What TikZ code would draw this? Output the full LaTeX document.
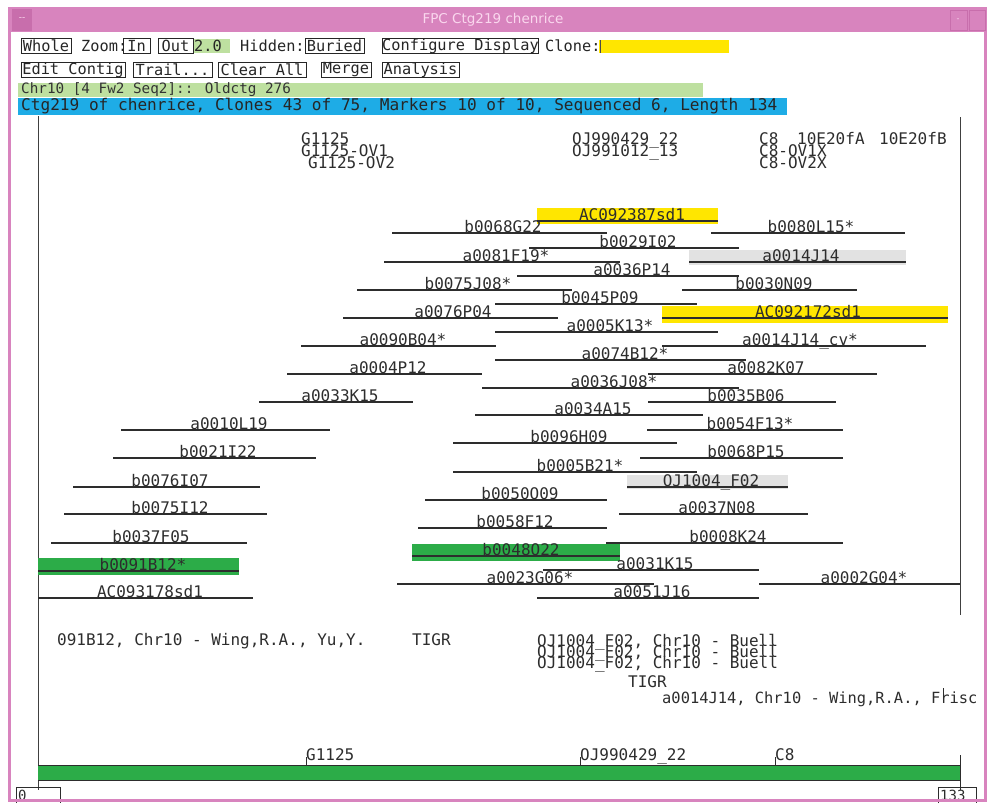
\documentclass[tikz,border=0pt]{standalone}
\usepackage{fontspec}
\newfontfamily\fx{DejaVu Sans Mono}
\newfontfamily\fsans{DejaVu Sans}
\newcommand\fntA{\fx\fontsize{16}{16}\selectfont}
\newcommand\fntB{\fx\fontsize{15.3}{15.3}\selectfont}
\newcommand\fntC{\fx\fontsize{14.3}{14.3}\selectfont}
\newcommand\fntD{\fx\fontsize{16.1}{16.1}\selectfont}
\newcommand\fntE{\fx\fontsize{15.4}{15.4}\selectfont}
\definecolor{pinkt}{RGB}{216,132,190}
\definecolor{pinkd}{RGB}{200,110,172}
\definecolor{pinktxt}{RGB}{250,215,238}
\definecolor{lgreen}{RGB}{190,224,160}
\definecolor{cblue}{RGB}{30,172,230}
\definecolor{cyel}{RGB}{255,230,0}
\definecolor{cgray}{RGB}{226,226,226}
\definecolor{cgreen}{RGB}{44,172,72}
\definecolor{ink}{RGB}{45,45,45}
\newcommand\clone[6]{%
  \draw[cl] (#2,#4) -- (#3,#4);
  \node[lbl] (#1) at (#5,#4) {#6};}
\begin{document}
\begin{tikzpicture}[x=1pt,y=-1pt,
  btn/.style={draw=black!85,line width=0.8pt,inner sep=0pt,minimum height=15pt,font=\fntB,text=black!85},
  tb/.style={inner sep=0pt,font=\fntB,text=black!85,anchor=west},
  cl/.style={draw=ink,line width=1.1pt},
  lbl/.style={inner sep=0pt,anchor=base,yshift=1pt,font=\fntA,text=ink},
  mk/.style={inner sep=0pt,anchor=base west,font=\fntA,text=ink},
  bt/.style={inner sep=0pt,anchor=base west,font=\fntA,text=ink}]
\useasboundingbox (0,0) rectangle (987,803);
\fill[white] (0,0) rectangle (987,803);
% title bar
\fill[pinkt] (8,7) rectangle (987,32);
\fill[pinkd] (12,9) rectangle (32,31);
\node[inner sep=0pt,text=pinktxt,font=\fsans\fontsize{9}{9}\selectfont] (minus) at (22,19) {--};
\node[inner sep=0pt,text=pinktxt,font=\fsans\fontsize{13.5}{13.5}\selectfont] (title) at (493,20) {FPC Ctg219 chenrice};
\draw[pinkd,line width=0.8pt] (950,10) rectangle (967,30);
\draw[pinkd,line width=0.8pt] (969,10) rectangle (985,30);
\node[inner sep=0pt,text=pinktxt,font=\fsans\fontsize{8}{8}\selectfont] (dot) at (958,20) {-};
% toolbar row 1
\node[btn,minimum width=50pt] (whole) at (46,46) {Whole};
\node[tb] (zoom) at (81,46) {Zoom:};
\node[btn,minimum width=27pt] (in) at (136.5,46) {In};
\fill[lgreen] (193,39) rectangle (230,53);
\node[btn,minimum width=35pt] (out) at (175.5,46) {Out};
\node[tb] (two) at (194,46) {2.0};
\node[tb] (hidden) at (240,46) {Hidden:};
\node[btn,minimum width=59pt] (buried) at (334.5,46) {Buried};
\node[btn,minimum width=154pt] (conf) at (460.5,46) {Configure Display};
\node[tb] (clone) at (545,46) {Clone:};
\fill[cyel] (599,40) rectangle (729,53);
\draw[black!70,line width=0.8pt] (600,40) -- (600,53);
% toolbar row 2
\node[btn,minimum width=104pt] (edit) at (73,70) {Edit Contig};
\node[btn,minimum width=79pt] (trail) at (172.5,70) {Trail...};
\node[btn,minimum width=88pt] (clear) at (262,70) {Clear All};
\node[btn,minimum width=50pt] (merge) at (346,70) {Merge};
\node[btn,minimum width=77pt] (anal) at (420.5,70) {Analysis};
% info rows
\fill[lgreen] (18,83) rectangle (703,97);
\node[inner sep=0pt,anchor=west,font=\fntC,text=black!80] (chr) at (21,90) {Chr10 [4 Fw2 Seq2]:: Oldctg 276};
\fill[cblue] (18,98) rectangle (787,115);
\node[inner sep=0pt,anchor=west,font=\fntD,text=black!85] (ctg) at (21,106.5) {Ctg219 of chenrice, Clones 43 of 75, Markers 10 of 10, Sequenced 6, Length 134};
% frame lines
\draw[black!75,line width=1pt] (38,116) -- (38,790);
\draw[black!75,line width=1pt] (960,117) -- (960,615);
% markers
\node[mk] (m1) at (301,144) {G1125};
\node[mk] (m2) at (301,156) {G1125-OV1};
\node[mk] (m3) at (308,168.5) {G1125-OV2};
\node[mk] (m4) at (572,144) {OJ990429\_22};
\node[mk] (m5) at (572,156) {OJ991012\_13};
\node[mk] (m6) at (759,144) {C8};
\node[mk] (m7) at (797,144) {10E20fA};
\node[mk] (m8) at (879,144) {10E20fB};
\node[mk] (m9) at (759,156) {C8-OV1X};
\node[mk] (m10) at (759,168.5) {C8-OV2X};
% highlight bars
\fill[cyel] (537,208) rectangle (718,224);
\fill[cgray] (689,250) rectangle (906,265);
\fill[cyel] (662,306) rectangle (948,323);
\fill[cgray] (627,475) rectangle (788,489);
\fill[cgreen] (38,558) rectangle (239,575);
\fill[cgreen] (412,544) rectangle (620,561);
% clones
\clone{c1}{537}{718}{221}{632}{AC092387sd1}
\clone{c2}{392}{607}{233}{503}{b0068G22}
\clone{c3}{711}{905}{233}{811}{b0080L15*}
\clone{c4}{529}{739}{248}{638}{b0029I02}
\clone{c5}{384}{620}{262}{506}{a0081F19*}
\clone{c6}{689}{906}{262}{801}{a0014J14}
\clone{c7}{517}{739}{276}{632}{a0036P14}
\clone{c8}{357}{572}{290}{468}{b0075J08*}
\clone{c9}{682}{857}{290}{774}{b0030N09}
\clone{c10}{495}{697}{304}{600}{b0045P09}
\clone{c11}{343}{558}{318}{453}{a0076P04}
\clone{c12}{662}{948}{318}{808}{AC092172sd1}
\clone{c13}{495}{718}{332}{610}{a0005K13*}
\clone{c14}{301}{496}{346}{403}{a0090B04*}
\clone{c15}{662}{926}{346}{800}{a0014J14\_cv*}
\clone{c16}{495}{746}{360}{625}{a0074B12*}
\clone{c17}{287}{482}{374}{388}{a0004P12}
\clone{c18}{648}{877}{374}{766}{a0082K07}
\clone{c19}{482}{739}{388}{614}{a0036J08*}
\clone{c20}{648}{836}{402}{746}{b0035B06}
\clone{c21}{259}{413}{402}{340}{a0033K15}
\clone{c22}{475}{703}{415}{593}{a0034A15}
\clone{c23}{121}{330}{430}{229}{a0010L19}
\clone{c24}{647}{843}{430}{750}{b0054F13*}
\clone{c25}{453}{677}{443}{569}{b0096H09}
\clone{c26}{113}{316}{458}{218}{b0021I22}
\clone{c27}{640}{843}{458}{746}{b0068P15}
\clone{c28}{453}{697}{472}{580}{b0005B21*}
\clone{c29}{627}{788}{487}{711}{OJ1004\_F02}
\clone{c30}{73}{260}{487}{170}{b0076I07}
\clone{c31}{425}{607}{500}{520}{b0050O09}
\clone{c32}{64}{267}{514}{170}{b0075I12}
\clone{c33}{619}{808}{514}{717}{a0037N08}
\clone{c34}{418}{607}{528}{515}{b0058F12}
\clone{c35}{51}{247}{543}{151}{b0037F05}
\clone{c36}{606}{843}{543}{728}{b0008K24}
\clone{c37}{38}{239}{571}{143}{b0091B12*}
\clone{c38}{412}{620}{556}{521}{b0048O22}
\clone{c39}{543}{759}{570}{655}{a0031K15}
\clone{c40}{397}{654}{584}{530}{a0023G06*}
\clone{c41}{759}{960}{584}{864}{a0002G04*}
\clone{c42}{537}{759}{598}{652}{a0051J16}
\clone{c43}{38}{253}{598}{150}{AC093178sd1}
% remarks
\begin{scope}
\clip (12,600) rectangle (983,740);
\node[bt] (r1) at (57,645) {091B12, Chr10 - Wing,R.A., Yu,Y.};
\node[bt] (r2) at (412,645) {TIGR};
\node[bt] (r3) at (537,646) {OJ1004\_F02, Chr10 - Buell};
\node[bt] (r4) at (537,657) {OJ1004\_F02, Chr10 - Buell};
\node[bt] (r5) at (537,668) {OJ1004\_F02, Chr10 - Buell};
\node[bt] (r6) at (628,687) {TIGR};
\node[bt,font=\fntE] (r7) at (662,703) {a0014J14, Chr10 - Wing,R.A., Frisc};
\draw[ink,line width=0.8pt] (943,688) -- (943,703);
\end{scope}
% bottom bar
\fill[cgreen] (38,765) rectangle (960,780);
\draw[ink,line width=0.9pt] (38,765) -- (960,765) (38,780) -- (960,780);
\draw[ink,line width=1pt] (960,755) -- (960,790);
\node[bt] (g1) at (306,760) {G1125};
\node[bt] (g2) at (580,760) {OJ990429\_22};
\node[bt] (g3) at (775,760) {C8};
\draw[ink,line width=1pt] (306,757) -- (306,765);
\draw[ink,line width=1pt] (580,757) -- (580,765);
\draw[ink,line width=1pt] (775,757) -- (775,765);
\draw[ink,line width=0.9pt] (16,803) -- (16,787) -- (60,787) -- (60,803);
\node[bt,font=\fx\fontsize{14}{14}\selectfont] (zero) at (18,800) {0};
\draw[ink,line width=0.9pt] (938,803) -- (938,787) -- (976,787) -- (976,803);
\node[bt,font=\fx\fontsize{14}{14}\selectfont] (end) at (940,800) {133};
% window frame
\draw[pinkt,line width=3pt] (9.5,32) -- (9.5,800.5) -- (985,800.5) -- (985,32);
\end{tikzpicture}
\end{document}
